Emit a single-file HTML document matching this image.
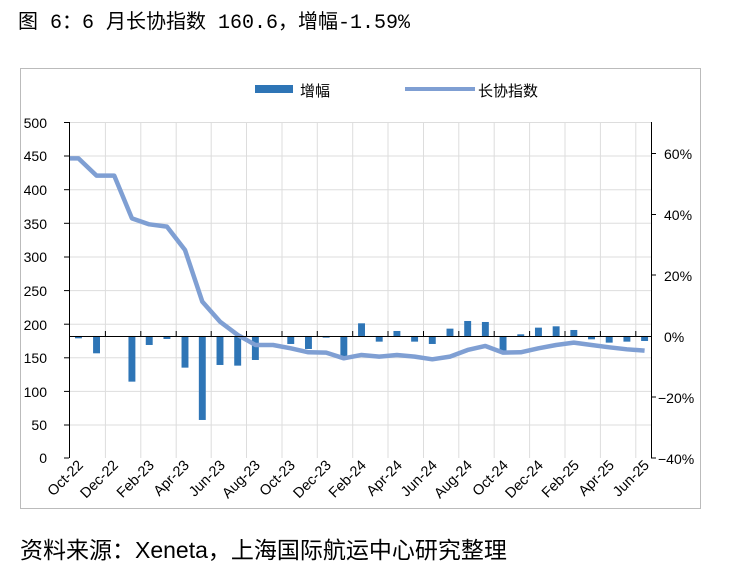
<!DOCTYPE html>
<html><head><meta charset="utf-8"><style>
body{margin:0;background:#fff;width:729px;height:572px;overflow:hidden;font-family:"Liberation Sans","Noto Sans CJK SC",sans-serif}
</style></head><body>
<svg width="729" height="572" xmlns="http://www.w3.org/2000/svg" font-family="Liberation Sans, Noto Sans CJK SC, sans-serif">
<text x="18" y="28" font-size="20" font-family="Liberation Mono, Noto Sans CJK SC, monospace" fill="#000">图 6：6 月长协指数 160.6，增幅-1.59%</text>
<rect x="20.5" y="68.5" width="680" height="440" fill="none" stroke="#bbb"/>
<rect x="255" y="85" width="38" height="8" fill="#2e75b6"/>
<text x="300" y="96" font-size="15">增幅</text>
<line x1="405" y1="89" x2="475" y2="89" stroke="#7f9fd3" stroke-width="4"/>
<text x="478" y="96" font-size="15">长协指数</text>
<g stroke="#ddd" stroke-width="1">
<line x1="69" y1="122.5" x2="651" y2="122.5"/><line x1="69" y1="156" x2="651" y2="156"/><line x1="69" y1="189.7" x2="651" y2="189.7"/><line x1="69" y1="223.3" x2="651" y2="223.3"/><line x1="69" y1="257" x2="651" y2="257"/><line x1="69" y1="290.6" x2="651" y2="290.6"/><line x1="69" y1="324.2" x2="651" y2="324.2"/><line x1="69" y1="357.8" x2="651" y2="357.8"/><line x1="69" y1="391.4" x2="651" y2="391.4"/><line x1="69" y1="425" x2="651" y2="425"/>
<line x1="105.4" y1="122" x2="105.4" y2="458"/><line x1="140.8" y1="122" x2="140.8" y2="458"/><line x1="176.2" y1="122" x2="176.2" y2="458"/><line x1="211.2" y1="122" x2="211.2" y2="458"/><line x1="246.5" y1="122" x2="246.5" y2="458"/><line x1="282" y1="122" x2="282" y2="458"/><line x1="317.3" y1="122" x2="317.3" y2="458"/><line x1="352.7" y1="122" x2="352.7" y2="458"/><line x1="388" y1="122" x2="388" y2="458"/><line x1="423.5" y1="122" x2="423.5" y2="458"/><line x1="458.8" y1="122" x2="458.8" y2="458"/><line x1="494.2" y1="122" x2="494.2" y2="458"/><line x1="529.6" y1="122" x2="529.6" y2="458"/><line x1="565" y1="122" x2="565" y2="458"/><line x1="600.4" y1="122" x2="600.4" y2="458"/><line x1="635.8" y1="122" x2="635.8" y2="458"/>
</g>
<g transform="translate(60,110) scale(0.3846,0.3333)" fill="#2e75b6">
<rect x="39" y="678" width="18" height="7"/><rect x="86" y="678" width="18" height="52"/><rect x="178" y="678" width="18" height="137"/><rect x="223" y="678" width="18" height="27"/><rect x="269" y="678" width="18" height="9"/><rect x="316" y="678" width="18" height="95"/><rect x="361" y="678" width="18" height="252"/><rect x="407" y="678" width="18" height="87"/><rect x="453" y="678" width="18" height="89"/><rect x="499" y="678" width="18" height="72"/><rect x="591" y="678" width="18" height="24"/><rect x="637" y="678" width="18" height="39"/><rect x="683" y="678" width="18" height="5"/><rect x="729" y="678" width="18" height="62"/><rect x="775" y="640" width="18" height="38"/><rect x="821" y="678" width="18" height="17"/><rect x="867" y="663" width="18" height="15"/><rect x="913" y="678" width="18" height="17"/><rect x="959" y="678" width="18" height="24"/><rect x="1005" y="656" width="18" height="22"/><rect x="1051" y="633" width="18" height="45"/><rect x="1097" y="636" width="18" height="42"/><rect x="1143" y="678" width="18" height="44"/><rect x="1189" y="673" width="18" height="5"/><rect x="1235" y="653" width="18" height="25"/><rect x="1281" y="649" width="18" height="29"/><rect x="1327" y="660" width="18" height="18"/><rect x="1373" y="678" width="18" height="10"/><rect x="1419" y="678" width="18" height="20"/><rect x="1465" y="678" width="18" height="17"/><rect x="1511" y="678" width="18" height="15"/>
<polyline fill="none" stroke="#7f9fd3" stroke-width="4.5" vector-effect="non-scaling-stroke" stroke-linejoin="round" points="25,145 48,145 95,197 141,197 187,325 232,343 278,350 325,420 370,575 416,635 462,675 508,705 554,705 600,715 646,727 692,728 738,745 784,735 830,740 876,735 922,740 968,748 1014,740 1060,720 1106,708 1152,728 1198,727 1244,715 1290,705 1336,698 1382,705 1428,712 1474,718 1520,722"/>
</g>
<g stroke="#000" stroke-width="1">
<line x1="69.5" y1="122" x2="69.5" y2="458"/><line x1="651.5" y1="122" x2="651.5" y2="458"/>
<line x1="69" y1="336.5" x2="651" y2="336.5"/>
<line x1="64" y1="122.5" x2="69" y2="122.5"/><line x1="64" y1="156" x2="69" y2="156"/><line x1="64" y1="189.7" x2="69" y2="189.7"/><line x1="64" y1="223.3" x2="69" y2="223.3"/><line x1="64" y1="257" x2="69" y2="257"/><line x1="64" y1="290.6" x2="69" y2="290.6"/><line x1="64" y1="324.2" x2="69" y2="324.2"/><line x1="64" y1="357.8" x2="69" y2="357.8"/><line x1="64" y1="391.4" x2="69" y2="391.4"/><line x1="64" y1="425" x2="69" y2="425"/><line x1="64" y1="458" x2="69" y2="458"/>
<line x1="651" y1="153.5" x2="656" y2="153.5"/><line x1="651" y1="214.5" x2="656" y2="214.5"/><line x1="651" y1="275" x2="656" y2="275"/><line x1="651" y1="397" x2="656" y2="397"/><line x1="651" y1="458" x2="656" y2="458"/>
<line x1="105.4" y1="331" x2="105.4" y2="336"/><line x1="140.8" y1="331" x2="140.8" y2="336"/><line x1="176.2" y1="331" x2="176.2" y2="336"/><line x1="211.2" y1="331" x2="211.2" y2="336"/><line x1="246.5" y1="331" x2="246.5" y2="336"/><line x1="282" y1="331" x2="282" y2="336"/><line x1="317.3" y1="331" x2="317.3" y2="336"/><line x1="352.7" y1="331" x2="352.7" y2="336"/><line x1="388" y1="331" x2="388" y2="336"/><line x1="423.5" y1="331" x2="423.5" y2="336"/><line x1="458.8" y1="331" x2="458.8" y2="336"/><line x1="494.2" y1="331" x2="494.2" y2="336"/><line x1="529.6" y1="331" x2="529.6" y2="336"/><line x1="565" y1="331" x2="565" y2="336"/><line x1="600.4" y1="331" x2="600.4" y2="336"/><line x1="635.8" y1="331" x2="635.8" y2="336"/>
</g>
<g font-size="14" text-anchor="end">
<text x="47" y="128">500</text><text x="47" y="161">450</text><text x="47" y="195">400</text><text x="47" y="229">350</text><text x="47" y="262">300</text><text x="47" y="296">250</text><text x="47" y="330">200</text><text x="47" y="363">150</text><text x="47" y="397">100</text><text x="47" y="430">50</text><text x="47" y="463">0</text>
</g>
<g font-size="14">
<text x="664" y="159">60%</text><text x="664" y="220">40%</text><text x="664" y="281">20%</text><text x="664" y="342">0%</text><text x="658" y="403">−20%</text><text x="658" y="464">−40%</text>
</g>
<g font-size="14.5" text-anchor="end">
<text transform="translate(84,466) rotate(-45)">Oct-22</text>
<text transform="translate(119,466) rotate(-45)">Dec-22</text>
<text transform="translate(155,466) rotate(-45)">Feb-23</text>
<text transform="translate(190,466) rotate(-45)">Apr-23</text>
<text transform="translate(226,466) rotate(-45)">Jun-23</text>
<text transform="translate(261,466) rotate(-45)">Aug-23</text>
<text transform="translate(296,466) rotate(-45)">Oct-23</text>
<text transform="translate(332,466) rotate(-45)">Dec-23</text>
<text transform="translate(367,466) rotate(-45)">Feb-24</text>
<text transform="translate(403,466) rotate(-45)">Apr-24</text>
<text transform="translate(438,466) rotate(-45)">Jun-24</text>
<text transform="translate(473,466) rotate(-45)">Aug-24</text>
<text transform="translate(509,466) rotate(-45)">Oct-24</text>
<text transform="translate(544,466) rotate(-45)">Dec-24</text>
<text transform="translate(580,466) rotate(-45)">Feb-25</text>
<text transform="translate(615,466) rotate(-45)">Apr-25</text>
<text transform="translate(650,466) rotate(-45)">Jun-25</text>
</g>
<text x="20" y="558" font-size="23">资料来源：Xeneta，上海国际航运中心研究整理</text>
</svg>
</body></html>
